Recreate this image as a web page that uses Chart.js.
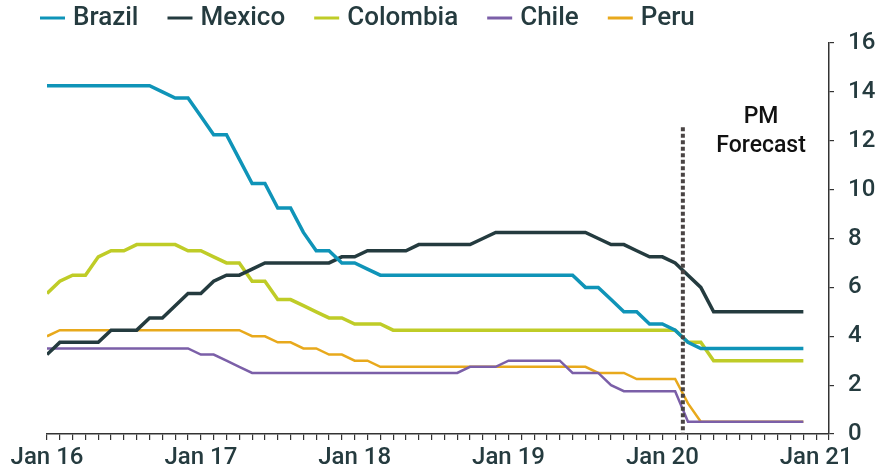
<!DOCTYPE html>
<html>
<head>
<meta charset="utf-8">
<script src="https://cdn.jsdelivr.net/npm/chart.js@4"></script>
<style>
  html, body { margin: 0; padding: 0; background: #fff; }
  #wrap { width: 875px; height: 472px; position: relative; }
</style>
</head>
<body>
<div id="wrap"><canvas id="rateChart" width="875" height="472"></canvas></div>
<script>
// Policy rates, monthly from Jan 2016 (month 0) to Dec 2020 (month 59)
const tickLabels = ['Jan 16', 'Jan 17', 'Jan 18', 'Jan 19', 'Jan 20', 'Jan 21'];
const seriesNames = ['Brazil', 'Mexico', 'Colombia', 'Chile', 'Peru'];

const brazil = [
    14.25, 14.25, 14.25, 14.25, 14.25, 14.25, 14.25, 14.25, 14.25, 14.0, 13.75, 13.75,
    13.0, 12.25, 12.25, 11.25, 10.25, 10.25, 9.25, 9.25, 8.25, 7.5, 7.5, 7.0,
    7.0, 6.75, 6.5, 6.5, 6.5, 6.5, 6.5, 6.5, 6.5, 6.5, 6.5, 6.5,
    6.5, 6.5, 6.5, 6.5, 6.5, 6.5, 6.0, 6.0, 5.5, 5.0, 5.0, 4.5,
    4.5, 4.25, 3.75, 3.5, 3.5, 3.5, 3.5, 3.5, 3.5, 3.5, 3.5, 3.5
];
const mexico = [
    3.25, 3.75, 3.75, 3.75, 3.75, 4.25, 4.25, 4.25, 4.75, 4.75, 5.25, 5.75,
    5.75, 6.25, 6.5, 6.5, 6.75, 7.0, 7.0, 7.0, 7.0, 7.0, 7.0, 7.25,
    7.25, 7.5, 7.5, 7.5, 7.5, 7.75, 7.75, 7.75, 7.75, 7.75, 8.0, 8.25,
    8.25, 8.25, 8.25, 8.25, 8.25, 8.25, 8.25, 8.0, 7.75, 7.75, 7.5, 7.25,
    7.25, 7.0, 6.5, 6.0, 5.0, 5.0, 5.0, 5.0, 5.0, 5.0, 5.0, 5.0
];
const colombia = [
    5.75, 6.25, 6.5, 6.5, 7.25, 7.5, 7.5, 7.75, 7.75, 7.75, 7.75, 7.5,
    7.5, 7.25, 7.0, 7.0, 6.25, 6.25, 5.5, 5.5, 5.25, 5.0, 4.75, 4.75,
    4.5, 4.5, 4.5, 4.25, 4.25, 4.25, 4.25, 4.25, 4.25, 4.25, 4.25, 4.25,
    4.25, 4.25, 4.25, 4.25, 4.25, 4.25, 4.25, 4.25, 4.25, 4.25, 4.25, 4.25,
    4.25, 4.25, 3.75, 3.75, 3.0, 3.0, 3.0, 3.0, 3.0, 3.0, 3.0, 3.0
];
const chile = [
    3.5, 3.5, 3.5, 3.5, 3.5, 3.5, 3.5, 3.5, 3.5, 3.5, 3.5, 3.5,
    3.25, 3.25, 3.0, 2.75, 2.5, 2.5, 2.5, 2.5, 2.5, 2.5, 2.5, 2.5,
    2.5, 2.5, 2.5, 2.5, 2.5, 2.5, 2.5, 2.5, 2.5, 2.75, 2.75, 2.75,
    3.0, 3.0, 3.0, 3.0, 3.0, 2.5, 2.5, 2.5, 2.0, 1.75, 1.75, 1.75,
    1.75, 1.75, 0.5, 0.5, 0.5, 0.5, 0.5, 0.5, 0.5, 0.5, 0.5, 0.5
];
const peru = [
    4.0, 4.25, 4.25, 4.25, 4.25, 4.25, 4.25, 4.25, 4.25, 4.25, 4.25, 4.25,
    4.25, 4.25, 4.25, 4.25, 4.0, 4.0, 3.75, 3.75, 3.5, 3.5, 3.25, 3.25,
    3.0, 3.0, 2.75, 2.75, 2.75, 2.75, 2.75, 2.75, 2.75, 2.75, 2.75, 2.75,
    2.75, 2.75, 2.75, 2.75, 2.75, 2.75, 2.75, 2.5, 2.5, 2.5, 2.25, 2.25,
    2.25, 2.25, 1.25, 0.5, 0.5, 0.5, 0.5, 0.5, 0.5, 0.5, 0.5, 0.5
];

// forecast starts between Feb and Mar 2020
const forecastStart = 49.6;

const textColor = '#253b3f';
const fontFamily = 'Roboto, "Liberation Sans", Arial, sans-serif';
const colors = ['#0f94b8', '#243b3f', '#bfcc27', '#7b5fa8', '#e8a91c'];
const widths = [3.5, 3.5, 3.5, 2.5, 2.5];
const allSeries = [brazil, mexico, colombia, chile, peru];

function toPoints(arr) {
    return arr.map((v, i) => ({ x: i, y: v }));
}

// legend drawn as short line + name, like the original
const lineLegend = {
    id: 'lineLegend',
    afterDraw(chart) {
        const ctx = chart.ctx;
        ctx.save();
        ctx.font = '500 26px ' + fontFamily;
        ctx.textBaseline = 'middle';
        let x = 40;
        const y = 18;
        chart.data.datasets.forEach(ds => {
            ctx.strokeStyle = ds.borderColor;
            ctx.lineWidth = 3;
            ctx.beginPath();
            ctx.moveTo(x, y);
            ctx.lineTo(x + 25, y);
            ctx.stroke();
            x += 33;
            ctx.fillStyle = textColor;
            ctx.fillText(ds.label, x, y);
            x += ctx.measureText(ds.label).width + 29;
        });
        ctx.restore();
    }
};

// dotted line marking the forecast period
const forecastLine = {
    id: 'forecastLine',
    afterDatasetsDraw(chart) {
        const ctx = chart.ctx;
        const xs = chart.scales.x;
        const ys = chart.scales.y;
        const px = xs.getPixelForValue(forecastStart);
        ctx.save();
        ctx.strokeStyle = '#4a4444';
        ctx.lineWidth = 4;
        ctx.setLineDash([4, 2.5]);
        ctx.beginPath();
        ctx.moveTo(px, ys.getPixelForValue(12.55));
        ctx.lineTo(px, ys.getPixelForValue(0));
        ctx.stroke();
        ctx.setLineDash([]);
        ctx.fillStyle = '#111';
        ctx.font = '500 23px ' + fontFamily;
        ctx.textAlign = 'center';
        ctx.textBaseline = 'middle';
        const tx = xs.getPixelForValue(55.7);
        ctx.fillText('PM', tx, ys.getPixelForValue(12.97));
        ctx.fillText('Forecast', tx, ys.getPixelForValue(11.78));
        ctx.restore();
    }
};

const ctx = document.getElementById('rateChart').getContext('2d');
new Chart(ctx, {
    type: 'line',
    data: {
        datasets: seriesNames.map((name, i) => ({
            label: name,
            data: toPoints(allSeries[i]),
            borderColor: colors[i],
            backgroundColor: colors[i],
            borderWidth: widths[i],
            pointRadius: 0,
            tension: 0,
            fill: false
        }))
    },
    options: {
        responsive: false,
        animation: false,
        layout: { padding: { left: 0, right: 0, top: 0, bottom: 0 } },
        plugins: {
            legend: { display: false },
            tooltip: { enabled: false }
        },
        scales: {
            x: {
                type: 'linear',
                min: 0,
                max: 61,
                grid: {
                    drawOnChartArea: false,
                    drawTicks: true,
                    tickLength: 6,
                    color: '#333',
                    lineWidth: 1.2
                },
                border: { display: true, color: '#333', width: 1.5 },
                ticks: {
                    stepSize: 1,
                    autoSkip: false,
                    maxRotation: 0,
                    padding: 4,
                    color: textColor,
                    font: { family: fontFamily, size: 24, weight: 500 },
                    callback: function(value) {
                        return value % 12 === 0 ? tickLabels[value / 12] : '';
                    }
                },
                afterFit: function(scale) {
                    scale.height = 38;
                    scale.paddingLeft = 47;
                    scale.paddingRight = 0;
                }
            },
            y: {
                position: 'right',
                min: 0,
                max: 16,
                grid: {
                    drawOnChartArea: false,
                    drawTicks: true,
                    tickLength: 5,
                    color: '#333',
                    lineWidth: 1.2
                },
                border: { display: true, color: '#333', width: 1.5 },
                ticks: {
                    stepSize: 2,
                    padding: 14,
                    color: textColor,
                    font: { family: fontFamily, size: 24, weight: 500 }
                },
                afterFit: function(scale) {
                    scale.width = 46;
                    scale.paddingTop = 43;
                    scale.paddingBottom = 0;
                }
            }
        }
    },
    plugins: [lineLegend, forecastLine]
});
</script>
</body>
</html>
